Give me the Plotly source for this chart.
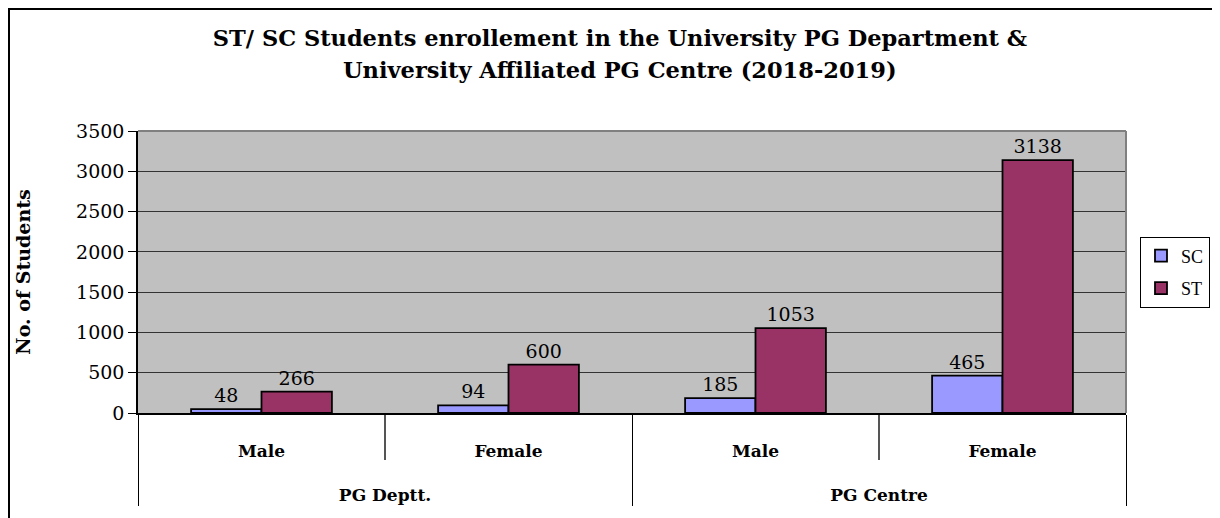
import plotly.graph_objects as go

groups = ["PG Deptt.", "PG Deptt.", "PG Centre", "PG Centre"]
genders = ["Male", "Female", "Male", "Female"]
sc_values = [48, 94, 185, 465]
st_values = [266, 600, 1053, 3138]
y_ticks = [0, 500, 1000, 1500, 2000, 2500, 3000, 3500]

# the page adds an 8px body margin, so the figure is sized to fill the rest
W, H = 1212, 510
L, R, T, B = 130, 94, 123, 105
PW, PH = W - L - R, H - T - B

# leading line breaks push each label level down to match the spacing of the original
x_cats = [["<br><br>" + g for g in groups], ["<br>" + s for s in genders]]

fig = go.Figure()
fig.add_trace(go.Bar(
    name="SC", legendgroup="sc", x=x_cats, y=sc_values,
    marker=dict(color="#9999FF", line=dict(color="black", width=1.8)),
    text=[str(v) for v in sc_values], textposition="outside",
    textfont=dict(family="DejaVu Serif", size=19, color="black"),
    cliponaxis=False,
))
fig.add_trace(go.Bar(
    name="ST", legendgroup="st", x=x_cats, y=st_values,
    marker=dict(color="#993366", line=dict(color="black", width=1.8)),
    text=[str(v) for v in st_values], textposition="outside",
    textfont=dict(family="DejaVu Serif", size=19, color="black"),
    cliponaxis=False,
))

fig.update_layout(
    width=W, height=H,
    margin=dict(l=L, r=R, t=T, b=B, autoexpand=False),
    paper_bgcolor="white",
    plot_bgcolor="#C0C0C0",
    barmode="group",
    bargap=0.43,
    bargroupgap=0,
    title=dict(
        text="<b>ST/ SC Students enrollement in the University PG Department &</b>",
        x=(620 - 8) / W, xanchor="center", y=1 - (38 - 8) / H, yanchor="middle",
        font=dict(family="DejaVu Serif", size=22.5, color="black"),
    ),
    annotations=[dict(
        text="<b>University Affiliated PG Centre (2018-2019)</b>",
        xref="paper", yref="paper",
        x=(620 - 8 - L) / PW, xanchor="center",
        y=1 + (T - (70 - 8)) / PH, yanchor="middle",
        showarrow=False,
        font=dict(family="DejaVu Serif", size=22.5, color="black"),
    )],
    legend=dict(
        x=1 + 14 / PW, xanchor="left", y=0.5, yanchor="middle",
        bordercolor="black", borderwidth=1,
        font=dict(family="Liberation Serif", size=18, color="black"),
        bgcolor="white", tracegroupgap=6,
    ),
    showlegend=True,
    xaxis=dict(
        type="multicategory",
        showgrid=False,
        showline=True, linecolor="black", linewidth=1.5,
        ticks="outside", tickson="boundaries", ticklen=45, tickcolor="#555555", tickwidth=1.5,
        showdividers=True, dividercolor="black", dividerwidth=1,
        tickfont=dict(family="DejaVu Serif", size=17, color="black", weight="bold"),
        automargin=False,
    ),
    yaxis=dict(
        range=[0, 3500],
        tickvals=y_ticks,
        showgrid=True, gridcolor="#333333", gridwidth=1,
        showline=True, linecolor="black", linewidth=1.5,
        ticks="outside", ticklen=8, tickcolor="black",
        tickfont=dict(family="DejaVu Serif", size=19, color="black"),
        title=dict(text="<b>No. of Students</b>", standoff=40,
                   font=dict(family="DejaVu Serif", size=19, color="black")),
        zeroline=False,
        automargin=False,
    ),
    shapes=[
        # outer frame (top and left edges visible)
        dict(type="line", xref="paper", yref="paper",
             x0=-L / PW, x1=1 + R / PW, y0=1 + T / PH - 1 / PH, y1=1 + T / PH - 1 / PH,
             line=dict(color="black", width=2)),
        dict(type="line", xref="paper", yref="paper",
             x0=-L / PW + 1 / PW, x1=-L / PW + 1 / PW, y0=-B / PH, y1=1 + T / PH,
             line=dict(color="black", width=2)),
        # plot area border top/right
        dict(type="line", xref="paper", yref="paper", x0=1, x1=1, y0=0, y1=1,
             line=dict(color="#808080", width=2)),
        dict(type="line", xref="paper", yref="paper", x0=0, x1=1, y0=1, y1=1,
             line=dict(color="#808080", width=2)),
    ],
)

fig.write_html("out.html")
